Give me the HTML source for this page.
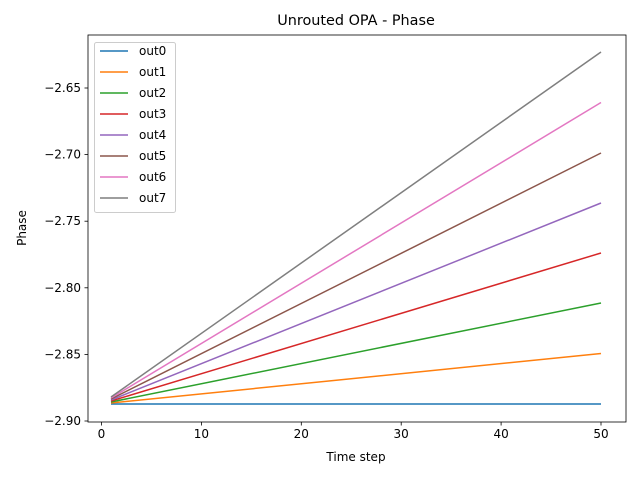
<!DOCTYPE html>
<html><head><meta charset="utf-8"><style>body{margin:0;background:#fff}svg{display:block}text{font-family:"DejaVu Sans","Liberation Sans",sans-serif;fill:#000}</style></head>
<body>
<svg width="640" height="480" viewBox="0 0 640 480" xmlns="http://www.w3.org/2000/svg">
<rect width="640" height="480" fill="#fff"/>
<text x="356" y="25" font-size="14.4" text-anchor="middle">Unrouted OPA - Phase</text>
<g stroke-width="1.5" fill="none">
<line x1="111" y1="404" x2="601" y2="404" stroke="#1f77b4"/>
<line x1="111" y1="403" x2="601" y2="353.5" stroke="#ff7f0e"/>
<line x1="111" y1="402" x2="601" y2="303" stroke="#2ca02c"/>
<line x1="111" y1="401" x2="601" y2="253" stroke="#d62728"/>
<line x1="111" y1="400" x2="601" y2="203" stroke="#9467bd"/>
<line x1="111" y1="399" x2="601" y2="153" stroke="#8c564b"/>
<line x1="111" y1="398" x2="601" y2="102.5" stroke="#e377c2"/>
<line x1="111" y1="397" x2="601" y2="52" stroke="#7f7f7f"/>
</g>
<rect x="88" y="35" width="538" height="387" fill="none" stroke="#000" stroke-width="0.8"/>
<g stroke="#000" stroke-width="0.8">
<line x1="101.5" y1="422" x2="101.5" y2="425.5"/><line x1="201.4" y1="422" x2="201.4" y2="425.5"/><line x1="301.3" y1="422" x2="301.3" y2="425.5"/><line x1="401.2" y1="422" x2="401.2" y2="425.5"/><line x1="501.1" y1="422" x2="501.1" y2="425.5"/><line x1="601" y1="422" x2="601" y2="425.5"/>
<line x1="84.5" y1="88" x2="88" y2="88"/><line x1="84.5" y1="154.6" x2="88" y2="154.6"/><line x1="84.5" y1="221.2" x2="88" y2="221.2"/><line x1="84.5" y1="287.8" x2="88" y2="287.8"/><line x1="84.5" y1="354.4" x2="88" y2="354.4"/><line x1="84.5" y1="421" x2="88" y2="421"/>
</g>
<g font-size="12" text-anchor="middle">
<text x="101.5" y="438">0</text><text x="201.4" y="438">10</text><text x="301.3" y="438">20</text><text x="401.2" y="438">30</text><text x="501.1" y="438">40</text><text x="601" y="438">50</text>
</g>
<g font-size="12" text-anchor="end">
<text x="81" y="92">−2.65</text><text x="81" y="158.6">−2.70</text><text x="81" y="225.2">−2.75</text><text x="81" y="291.8">−2.80</text><text x="81" y="358.4">−2.85</text><text x="81" y="425">−2.90</text>
</g>
<text x="356" y="461" font-size="12" text-anchor="middle">Time step</text>
<text transform="translate(26,228) rotate(-90)" font-size="12" text-anchor="middle">Phase</text>
<rect x="94.5" y="42.5" width="81" height="170" rx="2" fill="#fff" fill-opacity="0.8" stroke="#ccc"/>
<g stroke-width="1.5">
<line x1="100" y1="51" x2="128" y2="51" stroke="#1f77b4"/>
<line x1="100" y1="72" x2="128" y2="72" stroke="#ff7f0e"/>
<line x1="100" y1="93" x2="128" y2="93" stroke="#2ca02c"/>
<line x1="100" y1="114" x2="128" y2="114" stroke="#d62728"/>
<line x1="100" y1="135" x2="128" y2="135" stroke="#9467bd"/>
<line x1="100" y1="156" x2="128" y2="156" stroke="#8c564b"/>
<line x1="100" y1="177" x2="128" y2="177" stroke="#e377c2"/>
<line x1="100" y1="198" x2="128" y2="198" stroke="#7f7f7f"/>
</g>
<g font-size="12">
<text x="139" y="55">out0</text><text x="139" y="76">out1</text><text x="139" y="97">out2</text><text x="139" y="118">out3</text><text x="139" y="139">out4</text><text x="139" y="160">out5</text><text x="139" y="181">out6</text><text x="139" y="202">out7</text>
</g>
</svg>
</body></html>
